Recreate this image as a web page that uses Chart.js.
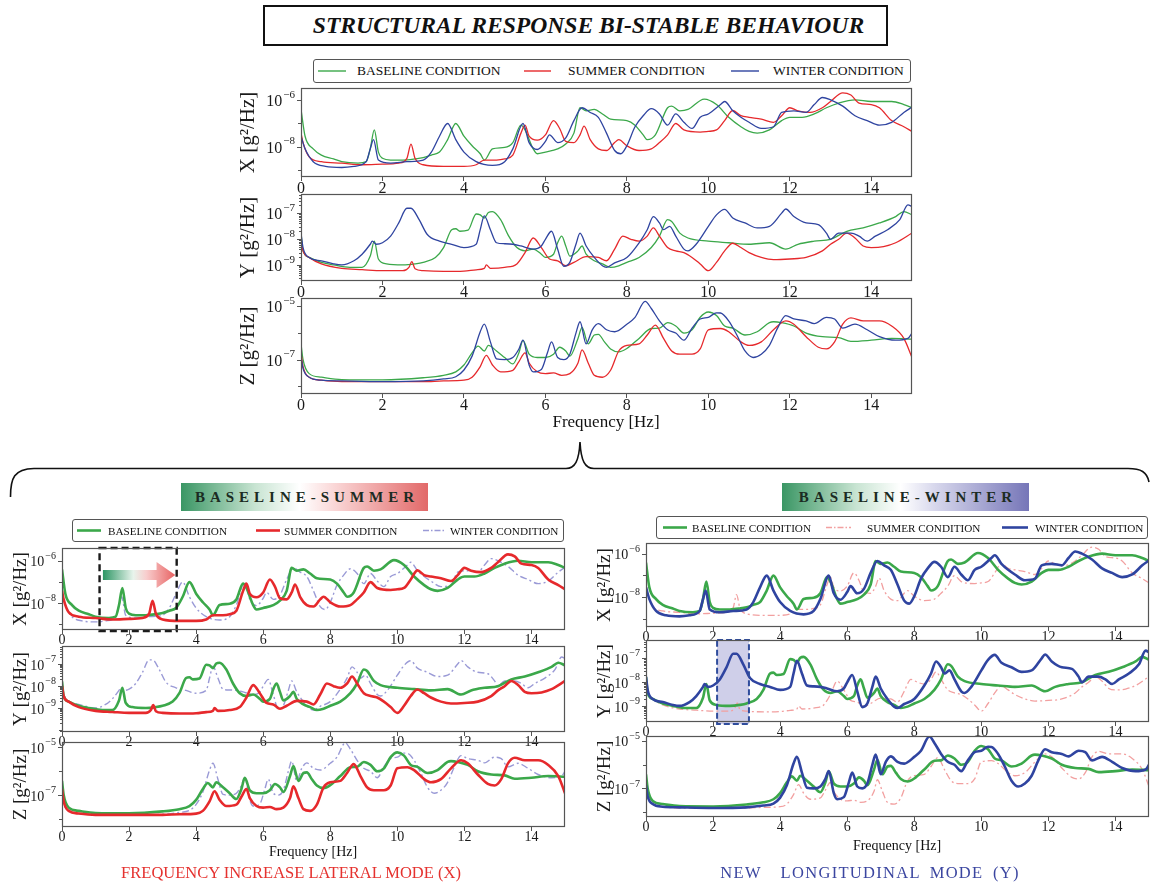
<!DOCTYPE html>
<html>
<head>
<meta charset="utf-8">
<title>Structural response bi-stable behaviour</title>
<script src="https://cdn.jsdelivr.net/npm/chart.js@4.4.1/dist/chart.umd.min.js"></script>
<style>
  body { margin: 0; background: #fff; }
  #page { position: relative; width: 1152px; height: 886px; overflow: hidden;
          font-family: 'Liberation Serif', 'Times New Roman', serif; color: #111; }
  canvas { position: absolute; }
  .abs { position: absolute; white-space: nowrap; }
  .ctr { transform: translate(-50%, -50%); }
  .legend { position: absolute; box-sizing: border-box; border: 1px solid #555; border-radius: 3px; background: #fff; }
  .tag { position: absolute; box-sizing: border-box; text-align: center; font-weight: bold;
         font-size: 15px; letter-spacing: 5px; color: #1b2b22; }
</style>
</head>
<body>
<div id="page"></div>
<script>
// ---- data ----
const freqTicks = [0, 2, 4, 6, 8, 10, 12, 14];
const seriesNames = ['BASELINE CONDITION', 'SUMMER CONDITION', 'WINTER CONDITION'];
const ticksX = [1e-8, 1e-6];
const ticksY = [1e-9, 1e-8, 1e-7];
const ticksZ = [1e-7, 1e-5];

// [frequency Hz, PSD g^2/Hz]
const xBase = [[0,3.9e-7],[0.1,2.8e-8],[0.3,8.1e-9],[0.5,4.4e-9],[0.8,3.0e-9],[1.0,2.3e-9],[1.4,2.0e-9],[1.6,2.3e-9],[1.7,8.1e-9],[1.8,5.2e-8],[1.9,5.9e-9],[2.0,3.2e-9],[2.2,2.7e-9],[2.5,2.7e-9],[2.8,3.0e-9],[3.0,3.4e-9],[3.2,4.4e-9],[3.4,5.9e-9],[3.6,2.0e-8],[3.8,9.8e-8],[4.0,2.8e-8],[4.2,1.1e-8],[4.4,5.0e-9],[4.5,2.7e-9],[4.7,8.1e-9],[5.0,9.3e-9],[5.2,1.5e-8],[5.4,8.3e-8],[5.5,5.2e-8],[5.7,8.1e-9],[5.8,5.0e-9],[6.0,5.9e-9],[6.3,8.1e-9],[6.5,1.3e-8],[6.7,3.8e-8],[6.85,4.6e-7],[7.0,3.4e-7],[7.2,3.9e-7],[7.4,2.5e-7],[7.6,1.5e-7],[8.0,1.3e-7],[8.2,8.3e-8],[8.4,3.2e-8],[8.5,2.0e-8],[8.7,3.2e-8],[9.0,4.6e-7],[9.1,5.4e-7],[9.3,3.4e-7],[9.5,3.9e-7],[9.9,1.07e-6],[10.2,6.3e-7],[10.5,1.8e-7],[10.8,7.1e-8],[11.0,4.5e-8],[11.2,3.8e-8],[11.5,5.2e-8],[11.8,1.3e-7],[12.0,1.8e-7],[12.3,1.8e-7],[12.6,2.5e-7],[12.9,4.6e-7],[13.2,7.3e-7],[13.6,1.0e-6],[14.0,8.5e-7],[14.5,8.5e-7],[14.8,6.3e-7],[15,4.6e-7]];
const xSum = [[0,3.8e-8],[0.05,1.5e-8],[0.2,3.7e-9],[0.5,2.3e-9],[1.0,2.0e-9],[1.5,1.7e-9],[2.0,1.8e-9],[2.4,2.0e-9],[2.6,3.2e-9],[2.7,1.3e-8],[2.8,3.2e-9],[3.0,1.7e-9],[3.5,1.45e-9],[4.0,1.45e-9],[4.3,1.7e-9],[4.5,2.7e-9],[4.8,2.7e-9],[5.0,3.0e-9],[5.2,4.4e-9],[5.4,3.8e-8],[5.5,8.3e-8],[5.6,2.8e-8],[5.8,1.9e-8],[6.0,3.2e-8],[6.2,1.3e-7],[6.35,6.0e-8],[6.5,1.7e-8],[6.7,1.5e-8],[6.85,3.2e-8],[6.95,7.6e-8],[7.1,2.0e-8],[7.3,8.1e-9],[7.5,6.9e-9],[7.7,1.5e-8],[7.8,2.0e-8],[8.0,1.1e-8],[8.3,6.9e-9],[8.6,8.1e-9],[8.8,1.5e-8],[9.0,3.2e-8],[9.2,9.8e-8],[9.4,5.2e-8],[9.8,4.2e-8],[10.0,4.5e-8],[10.2,5.2e-8],[10.4,1.3e-7],[10.6,3.5e-7],[10.8,2.1e-7],[11.0,1.8e-7],[11.3,1.5e-7],[11.6,1.1e-7],[11.8,2.1e-7],[12.0,4.6e-7],[12.2,3.4e-7],[12.5,2.9e-7],[12.8,4.6e-7],[13.0,8.5e-7],[13.3,2.0e-6],[13.5,1.6e-6],[13.7,7.3e-7],[14.0,6.3e-7],[14.2,4.6e-7],[14.5,1.3e-7],[14.8,7.1e-8],[15,4.5e-8]];
const xWin = [[0,2.8e-8],[0.1,8.1e-9],[0.3,2.3e-9],[0.6,1.45e-9],[1.0,1.3e-9],[1.3,1.45e-9],[1.6,2.3e-9],[1.7,8.1e-9],[1.78,2.0e-8],[1.9,2.7e-9],[2.2,2.0e-9],[2.6,2.3e-9],[3.0,2.7e-9],[3.2,5.9e-9],[3.4,2.8e-8],[3.6,9.8e-8],[3.8,2.0e-8],[4.0,5.9e-9],[4.3,2.3e-9],[4.7,1.6e-9],[5.0,2.3e-9],[5.2,8.1e-9],[5.45,9.8e-8],[5.6,1.5e-8],[5.8,7.6e-9],[6.0,1.7e-8],[6.1,3.2e-8],[6.3,1.5e-8],[6.5,2.4e-8],[6.7,1.3e-7],[6.9,4.6e-7],[7.1,2.9e-7],[7.3,1.8e-7],[7.5,3.8e-8],[7.7,6.9e-9],[7.85,5.0e-9],[8.0,1.1e-8],[8.2,7.1e-8],[8.4,2.1e-7],[8.6,4.2e-7],[8.8,2.5e-7],[9.0,8.3e-8],[9.2,2.5e-7],[9.4,1.1e-7],[9.6,6.0e-8],[9.8,1.8e-7],[10.0,2.5e-7],[10.3,6.3e-7],[10.4,8.5e-7],[10.6,3.4e-7],[10.8,1.8e-7],[11.0,1.1e-7],[11.3,6.0e-8],[11.6,7.1e-8],[11.8,2.9e-7],[12.1,3.4e-7],[12.4,2.9e-7],[12.6,6.3e-7],[12.8,1.26e-6],[13.0,1.0e-6],[13.3,5.4e-7],[13.6,2.1e-7],[13.9,1.3e-7],[14.2,8.3e-8],[14.5,1.1e-7],[14.8,2.9e-7],[15,4.9e-7]];

const yBase = [[0,1.6e-8],[0.05,3.5e-9],[0.2,1.95e-9],[0.5,1.26e-9],[0.8,1.0e-9],[1.2,8.1e-10],[1.5,8.1e-10],[1.7,2.2e-9],[1.8,8.3e-9],[1.9,1.7e-9],[2.1,1.1e-9],[2.5,1.0e-9],[2.8,1.1e-9],[3.0,1.26e-9],[3.3,1.95e-9],[3.5,4.7e-9],[3.7,2.3e-8],[3.8,2.5e-8],[3.9,2.0e-8],[4.1,2.2e-8],[4.3,9.3e-8],[4.4,8.6e-8],[4.5,6.5e-8],[4.6,1.06e-7],[4.7,1.15e-7],[4.9,5.6e-8],[5.1,1.3e-8],[5.3,4.7e-9],[5.5,3.5e-9],[5.7,4.1e-9],[5.9,2.6e-9],[6.0,1.95e-9],[6.2,2.6e-9],[6.3,7.2e-9],[6.4,1.3e-8],[6.5,5.4e-9],[6.6,2.2e-9],[6.8,3.5e-9],[6.9,5.4e-9],[7.0,2.6e-9],[7.2,1.45e-9],[7.4,1.1e-9],[7.6,8.1e-10],[7.8,9.3e-10],[8.0,1.26e-9],[8.3,1.95e-9],[8.6,4.7e-9],[8.8,1.3e-8],[9.0,5.6e-8],[9.1,4.8e-8],[9.3,1.7e-8],[9.5,1.1e-8],[10.0,8.3e-9],[10.5,7.2e-9],[11.0,6.3e-9],[11.5,7.2e-9],[11.9,4.1e-9],[12.2,6.3e-9],[12.6,8.3e-9],[13.0,9.8e-9],[13.4,2.0e-8],[13.8,2.7e-8],[14.2,4.2e-8],[14.6,7.4e-8],[14.8,1.15e-7],[15,8.7e-8]];
const ySum = [[0,1.0e-8],[0.05,3.5e-9],[0.2,1.95e-9],[0.5,1.1e-9],[1.0,7.4e-10],[1.5,6.6e-10],[2.0,6.0e-10],[2.5,6.0e-10],[2.65,8.1e-10],[2.72,1.35e-9],[2.8,7.1e-10],[3.0,6.0e-10],[3.5,5.6e-10],[4.0,5.8e-10],[4.3,6.5e-10],[4.5,7.4e-10],[4.55,1.0e-9],[4.65,7.4e-10],[5.0,8.1e-10],[5.3,1.1e-9],[5.5,3.0e-9],[5.7,1.1e-8],[5.9,4.7e-9],[6.1,1.7e-9],[6.3,1.45e-9],[6.5,9.3e-10],[6.7,1.26e-9],[7.0,2.1e-9],[7.3,1.95e-9],[7.5,1.45e-9],[7.7,4.1e-9],[7.9,1.3e-8],[8.1,9.8e-9],[8.3,8.3e-9],[8.5,1.3e-8],[8.65,2.7e-8],[8.8,1.3e-8],[9.0,4.7e-9],[9.2,3.5e-9],[9.4,3.0e-9],[9.6,1.95e-9],[9.8,1.1e-9],[10.0,6.0e-10],[10.2,1.26e-9],[10.4,3.5e-9],[10.6,6.9e-9],[10.8,4.7e-9],[11.0,3.0e-9],[11.3,1.95e-9],[11.6,1.6e-9],[12.0,1.7e-9],[12.4,1.95e-9],[12.8,3.5e-9],[13.0,6.3e-9],[13.2,9.8e-9],[13.4,1.7e-8],[13.6,1.1e-8],[13.8,5.4e-9],[14.0,4.7e-9],[14.3,5.1e-9],[14.6,7.2e-9],[15,1.7e-8]];
const yWin = [[0,1.7e-8],[0.05,4.7e-9],[0.2,1.95e-9],[0.5,1.45e-9],[0.8,1.1e-9],[1.0,1.0e-9],[1.3,1.45e-9],[1.5,2.6e-9],[1.7,6.3e-9],[1.75,8.3e-9],[1.85,6.3e-9],[2.0,7.2e-9],[2.2,1.3e-8],[2.4,4.2e-8],[2.6,1.55e-7],[2.7,1.55e-7],[2.9,5.6e-8],[3.1,1.5e-8],[3.4,8.3e-9],[3.7,6.3e-9],[4.0,4.7e-9],[4.3,6.3e-9],[4.4,2.3e-8],[4.5,7.9e-8],[4.65,2.3e-8],[4.8,7.2e-9],[5.0,6.6e-9],[5.2,6.3e-9],[5.4,5.4e-9],[5.7,4.1e-9],[5.9,5.4e-9],[6.0,9.8e-9],[6.15,2.0e-8],[6.3,4.1e-9],[6.45,8.9e-10],[6.6,1.26e-9],[6.75,6.3e-9],[6.85,1.7e-8],[7.0,5.4e-9],[7.2,1.95e-9],[7.4,9.3e-10],[7.5,8.1e-10],[7.7,1.2e-9],[8.0,1.95e-9],[8.3,7.2e-9],[8.5,2.3e-8],[8.65,7.4e-8],[8.8,4.2e-8],[8.9,2.3e-8],[9.05,3.1e-8],[9.2,1.3e-8],[9.4,4.1e-9],[9.5,3.5e-9],[9.7,6.3e-9],[10.0,3.1e-8],[10.2,8.6e-8],[10.4,1.4e-7],[10.6,6.5e-8],[10.9,4.2e-8],[11.2,2.7e-8],[11.5,3.1e-8],[11.8,1.0e-7],[11.9,1.45e-7],[12.1,7.4e-8],[12.4,4.2e-8],[12.7,3.6e-8],[12.9,1.7e-8],[13.0,9.8e-9],[13.2,1.7e-8],[13.5,1.7e-8],[13.7,1.3e-8],[13.9,8.3e-9],[14.1,1.3e-8],[14.4,2.3e-8],[14.7,5.6e-8],[14.9,2.1e-7],[15,1.8e-7]];

const zBase = [[0,3.9e-7],[0.05,1.0e-7],[0.2,3.0e-8],[0.5,2.2e-8],[1.0,1.8e-8],[2.0,1.75e-8],[3.0,2.1e-8],[3.5,2.6e-8],[3.8,3.5e-8],[4.0,6.3e-8],[4.2,1.8e-7],[4.35,3.2e-7],[4.5,2.1e-7],[4.6,3.4e-7],[4.8,2.1e-7],[5.0,1.2e-7],[5.2,6.9e-8],[5.35,1.8e-7],[5.45,5.2e-7],[5.6,1.6e-7],[5.8,1.2e-7],[6.0,1.2e-7],[6.2,1.6e-7],[6.35,2.9e-7],[6.5,2.1e-7],[6.6,1.35e-7],[6.8,6.2e-7],[6.9,1.6e-6],[7.05,3.9e-7],[7.2,8.3e-7],[7.3,8.8e-7],[7.45,4.6e-7],[7.6,2.5e-7],[7.8,1.95e-7],[8.0,2.6e-7],[8.3,6.2e-7],[8.6,1.45e-6],[8.8,1.5e-6],[9.0,2.4e-6],[9.2,1.8e-6],[9.4,9.8e-7],[9.6,1.3e-6],[9.8,3.8e-6],[10.0,6.0e-6],[10.2,4.4e-6],[10.4,1.8e-6],[10.6,1.5e-6],[10.9,8.3e-7],[11.2,1.1e-6],[11.5,2.4e-6],[11.6,2.6e-6],[11.8,2.4e-6],[12.1,1.8e-6],[12.4,9.8e-7],[12.8,7.2e-7],[13.2,6.6e-7],[13.5,4.8e-7],[14.0,5.3e-7],[14.5,6.2e-7],[15,5.8e-7]];
const zSum = [[0,1.8e-7],[0.05,5.5e-8],[0.2,2.2e-8],[0.5,1.7e-8],[1.0,1.5e-8],[2.0,1.5e-8],[3.0,1.5e-8],[3.5,1.6e-8],[4.0,1.7e-8],[4.2,2.2e-8],[4.4,5.5e-8],[4.55,1.45e-7],[4.7,6.3e-8],[4.9,3.5e-8],[5.2,4.0e-8],[5.35,8.5e-8],[5.5,1.8e-7],[5.6,7.5e-8],[5.8,3.5e-8],[6.0,3.0e-8],[6.2,3.2e-8],[6.4,2.6e-8],[6.6,3.0e-8],[6.8,7.5e-8],[6.9,2.3e-7],[7.05,7.5e-8],[7.2,2.6e-8],[7.4,2.2e-8],[7.6,4.0e-8],[7.8,2.1e-7],[8.0,3.4e-7],[8.3,3.9e-7],[8.5,8.3e-7],[8.7,1.95e-6],[8.9,6.2e-7],[9.1,2.1e-7],[9.3,1.6e-7],[9.6,1.6e-7],[9.8,2.5e-7],[10.0,1.3e-6],[10.3,1.45e-6],[10.5,1.1e-6],[10.8,4.6e-7],[11.0,3.4e-7],[11.3,4.6e-7],[11.6,1.3e-6],[11.9,2.8e-6],[12.1,2.1e-6],[12.4,7.2e-7],[12.7,2.9e-7],[12.9,2.5e-7],[13.1,4.6e-7],[13.3,2.1e-6],[13.5,3.6e-6],[13.8,2.8e-6],[14.2,2.8e-6],[14.5,1.8e-6],[14.8,6.2e-7],[15,1.2e-7]];
const zWin = [[0,1.35e-7],[0.05,4.7e-8],[0.2,2.2e-8],[0.5,1.7e-8],[1.0,1.6e-8],[2.0,1.5e-8],[3.0,1.6e-8],[3.5,1.9e-8],[3.8,2.3e-8],[4.0,4.1e-8],[4.2,1.35e-7],[4.4,1.1e-6],[4.5,2.1e-6],[4.65,4.6e-7],[4.8,1.07e-7],[5.0,1.0e-7],[5.2,1.2e-7],[5.35,2.5e-7],[5.45,5.3e-7],[5.6,6.3e-8],[5.7,3.5e-8],[5.9,4.3e-8],[6.05,1.8e-7],[6.15,4.6e-7],[6.3,1.2e-7],[6.45,1.0e-7],[6.6,1.6e-7],[6.75,9.8e-7],[6.85,2.6e-6],[7.0,3.9e-7],[7.15,1.3e-6],[7.3,2.2e-6],[7.5,1.3e-6],[7.7,1.1e-6],[8.0,2.1e-6],[8.2,3.8e-6],[8.45,1.5e-5],[8.6,8.1e-6],[8.8,2.8e-6],[9.0,1.3e-6],[9.2,9.8e-7],[9.4,5.3e-7],[9.6,1.5e-6],[9.8,3.3e-6],[10.0,3.8e-6],[10.2,5.6e-6],[10.3,5.5e-6],[10.5,2.8e-6],[10.7,8.3e-7],[10.9,2.1e-7],[11.1,1.2e-7],[11.3,1.6e-7],[11.5,3.4e-7],[11.7,1.5e-6],[11.9,4.4e-6],[12.1,3.3e-6],[12.4,2.8e-6],[12.6,2.2e-6],[12.9,3.8e-6],[13.1,3.3e-6],[13.3,1.5e-6],[13.6,2.1e-6],[13.9,1.3e-6],[14.2,7.2e-7],[14.6,5.3e-7],[14.9,6.2e-7],[15,9.8e-7]];

// ---- drawing ----
const page = document.getElementById('page');
const SERIF = "'Liberation Serif', 'Times New Roman', serif";

function addText(txt, x, y, css) {
  const d = document.createElement('div');
  d.className = 'abs ctr';
  d.textContent = txt;
  d.style.left = x + 'px';
  d.style.top = y + 'px';
  Object.assign(d.style, css || {});
  page.appendChild(d);
  return d;
}

function addLegend(box, items, fs) {
  const h = box.b - box.t;
  const d = document.createElement('div');
  d.className = 'legend';
  Object.assign(d.style, { left: box.l + 'px', top: box.t + 'px', width: (box.r - box.l) + 'px', height: h + 'px' });
  page.appendChild(d);
  const ns = 'http://www.w3.org/2000/svg';
  items.forEach(it => {
    const svg = document.createElementNS(ns, 'svg');
    svg.setAttribute('width', it.x1 - it.x0);
    svg.setAttribute('height', h - 2);
    svg.style.position = 'absolute';
    svg.style.left = (it.x0 - box.l - 1) + 'px';
    svg.style.top = '0px';
    const ln = document.createElementNS(ns, 'line');
    ln.setAttribute('x1', 0); ln.setAttribute('x2', it.x1 - it.x0);
    ln.setAttribute('y1', (h - 2) / 2); ln.setAttribute('y2', (h - 2) / 2);
    ln.setAttribute('stroke', it.color);
    ln.setAttribute('stroke-width', it.w);
    if (it.dash) ln.setAttribute('stroke-dasharray', it.dash.join(' '));
    svg.appendChild(ln);
    d.appendChild(svg);
    const t = document.createElement('div');
    t.className = 'abs';
    t.textContent = it.label;
    Object.assign(t.style, { left: (it.tx - box.l - 1) + 'px', top: '50%', transform: 'translateY(-50%)', fontSize: fs + 'px' });
    d.appendChild(t);
  });
}

function plot(cfg) {
  const { box, axisW, title, range, ticks, series, fs } = cfg;
  const padT = 6, padR = 6, xH = 22;
  const w = axisW + (box.r - box.l) + padR;
  const h = padT + (box.b - box.t) + xH;
  const c = document.createElement('canvas');
  c.width = w; c.height = h;
  c.style.left = (box.l - axisW) + 'px';
  c.style.top = (box.t - padT) + 'px';
  c.style.width = w + 'px';
  c.style.height = h + 'px';
  page.appendChild(c);

  const frame = {
    id: 'frame',
    beforeDatasetsDraw(chart) { if (cfg.under) cfg.under(chart); },
    afterDatasetsDraw(chart) { if (cfg.over) cfg.over(chart); },
    afterDraw(chart) {
      const { ctx, chartArea: a, scales: { y } } = chart;
      ctx.save();
      ctx.strokeStyle = '#555';
      ctx.lineWidth = 1.2;
      ctx.strokeRect(a.left + 0.5, a.top + 0.5, a.right - a.left - 1, a.bottom - a.top - 1);
      // y tick marks
      ctx.lineWidth = 1;
      const lo = Math.floor(Math.log10(y.min)), hi = Math.ceil(Math.log10(y.max));
      for (let d = lo; d <= hi; d++) {
        for (let k = 1; k <= 9; k++) {
          const v = k * Math.pow(10, d);
          if (v < y.min || v > y.max) continue;
          const lab = k === 1 && ticks.some(t => Math.abs(Math.log10(t) - d) < 1e-6);
          const len = lab ? 4 : (k === 1 ? 3 : (cfg.minor ? 2 : 0));
          if (!len) continue;
          const py = Math.round(y.getPixelForValue(v)) + 0.5;
          ctx.beginPath();
          ctx.moveTo(a.left, py);
          ctx.lineTo(a.left - len, py);
          ctx.stroke();
        }
      }
      // y tick labels 10^n
      ctx.fillStyle = '#1a1a1a';
      ctx.textBaseline = 'middle';
      ctx.textAlign = 'left';
      const baseFont = fs + 'px ' + SERIF;
      const supFont = Math.round(fs * 0.68) + 'px ' + SERIF;
      ticks.forEach(t => {
        const py = y.getPixelForValue(t);
        const sup = '\u2212' + Math.abs(Math.round(Math.log10(t)));
        ctx.font = supFont;
        const sw = ctx.measureText(sup).width;
        ctx.font = baseFont;
        const bw = ctx.measureText('10').width;
        const xr = a.left - 6;
        ctx.fillText('10', xr - sw - bw - 1, py + 2);
        ctx.font = supFont;
        ctx.fillText(sup, xr - sw, py - fs * 0.32);
      });
      ctx.restore();
    }
  };

  return new Chart(c, {
    type: 'line',
    data: {
      datasets: series.map(s => ({
        data: s.pts.map(p => ({ x: p[0], y: p[1] })),
        borderColor: s.color,
        borderWidth: s.w,
        borderDash: s.dash || [],
        pointRadius: 0,
        fill: false,
        cubicInterpolationMode: 'monotone',
        order: s.order
      }))
    },
    options: {
      responsive: false,
      animation: false,
      devicePixelRatio: 1,
      events: [],
      layout: { padding: { top: padT, right: padR, left: 0, bottom: 0 } },
      plugins: { legend: { display: false }, tooltip: { enabled: false } },
      scales: {
        x: {
          type: 'linear', min: 0, max: 15,
          afterBuildTicks: s => { s.ticks = freqTicks.map(v => ({ value: v })); },
          afterFit: s => { s.height = xH; },
          ticks: { font: { family: SERIF, size: fs }, color: '#1a1a1a', padding: -2, maxRotation: 0, autoSkip: false },
          grid: { drawOnChartArea: false, tickLength: 4, color: '#555' },
          border: { display: false }
        },
        y: {
          type: 'logarithmic', min: range[0], max: range[1],
          afterBuildTicks: s => { s.ticks = ticks.map(v => ({ value: v })); },
          afterFit: s => { s.width = axisW; },
          ticks: { display: false },
          grid: { display: false },
          border: { display: false },
          title: { display: true, text: title, font: { family: SERIF, size: cfg.tfs }, color: '#1a1a1a', padding: 0 }
        }
      }
    },
    plugins: [frame]
  });
}

// ---- figure heading ----
addText('STRUCTURAL RESPONSE BI-STABLE BEHAVIOUR', 0, 0, {
  transform: 'none', left: '263px', top: '5px', width: '625px', height: '41px', boxSizing: 'border-box',
  border: '2px solid #111', textAlign: 'center', lineHeight: '37px', fontSize: '23.6px', fontWeight: 'bold', fontStyle: 'italic',
  paddingLeft: '26px'
});

// ---- styles ----
const GREEN = '#3ba84a', RED = '#e6292c', BLUE = '#2f44a0';
const thinG = { color: GREEN, w: 1.3, order: 2 };
const thinR = { color: RED, w: 1.3, order: 1 };
const thinB = { color: BLUE, w: 1.3, order: 0 };
const dashDot = [7, 3, 2, 3];

// ---- top panel ----
addLegend({ l: 313, r: 911, t: 59, b: 83 }, [
  { x0: 318, x1: 346, tx: 357, color: GREEN, w: 1.4, label: seriesNames[0] },
  { x0: 524, x1: 551, tx: 568, color: RED, w: 1.4, label: seriesNames[1] },
  { x0: 731, x1: 759, tx: 773, color: BLUE, w: 1.4, label: seriesNames[2] }
], 13.5);

const TL = 301, TR = 912;
plot({ box: { l: TL, r: TR, t: 88, b: 177 }, axisW: 65, tfs: 21, title: 'X [g²/Hz]', range: [5.1e-10, 3.2e-6], ticks: ticksX, fs: 16,
  series: [{ pts: xBase, ...thinG }, { pts: xSum, ...thinR }, { pts: xWin, ...thinB }] });
plot({ box: { l: TL, r: TR, t: 194, b: 281 }, axisW: 65, tfs: 21, title: 'Y [g²/Hz]', range: [2.4e-10, 5.5e-7], ticks: ticksY, fs: 16, minor: true,
  series: [{ pts: yBase, ...thinG }, { pts: ySum, ...thinR }, { pts: yWin, ...thinB }] });
plot({ box: { l: TL, r: TR, t: 298, b: 394 }, axisW: 65, tfs: 21, title: 'Z [g²/Hz]', range: [5.2e-9, 2.0e-5], ticks: ticksZ, fs: 16,
  series: [{ pts: zBase, ...thinG }, { pts: zSum, ...thinR }, { pts: zWin, ...thinB }] });
addText('Frequency [Hz]', 606, 422, { fontSize: '17px' });

// ---- brace ----
const svgNS = 'http://www.w3.org/2000/svg';
const brace = document.createElementNS(svgNS, 'svg');
brace.setAttribute('width', 1152); brace.setAttribute('height', 886);
brace.style.position = 'absolute'; brace.style.left = '0px'; brace.style.top = '0px';
const bp = document.createElementNS(svgNS, 'path');
bp.setAttribute('d', 'M 10.5 497 C 10.5 478, 14 469, 34 468.5 L 566 468.5 C 575 468.5, 579 461, 580 442 C 581 461, 585 468.5, 594 468.5 L 1128 468.5 C 1141 468.5, 1147 472, 1149 482');
bp.setAttribute('fill', 'none'); bp.setAttribute('stroke', '#111'); bp.setAttribute('stroke-width', 1.6);
brace.appendChild(bp);
page.appendChild(brace);

// ---- comparison tags ----
function addTag(txt, l, r, grad) {
  const d = document.createElement('div');
  d.className = 'tag';
  d.textContent = txt;
  Object.assign(d.style, { left: l + 'px', top: '483px', width: (r - l) + 'px', height: '28px', lineHeight: '28px', background: grad, paddingLeft: '5px' });
  page.appendChild(d);
}
addTag('BASELINE-SUMMER', 181, 428, 'linear-gradient(to right, rgb(58,150,100), rgb(200,228,210) 30%, rgb(255,255,255) 48%, rgb(250,215,215) 62%, rgb(226,105,105))');
addTag('BASELINE-WINTER', 782, 1029, 'linear-gradient(to right, rgb(58,150,100), rgb(200,228,210) 30%, rgb(255,255,255) 48%, rgb(215,215,236) 62%, rgb(118,118,184))');

// ---- bottom-left: baseline vs summer ----
const LAV = '#9a9ad6', PINK = '#f2a0a0';
const thickG = { color: GREEN, w: 2.6, order: 1 };
addLegend({ l: 72, r: 564, t: 519, b: 542 }, [
  { x0: 77, x1: 101, tx: 108, color: GREEN, w: 2.6, label: seriesNames[0] },
  { x0: 256, x1: 280, tx: 284, color: RED, w: 2.6, label: seriesNames[1] },
  { x0: 423, x1: 445, tx: 450, color: LAV, w: 1.4, dash: [6, 2, 1.5, 2], label: seriesNames[2] }
], 11.2);

const bl = { l: 62, r: 565 };
const blS = [
  p => ({ pts: p[0], ...thickG }),
  p => ({ pts: p[1], color: RED, w: 2.6, order: 0 }),
  p => ({ pts: p[2], color: LAV, w: 1.4, dash: dashDot, order: 2 })
];
function summerMark(chart) {
  const { ctx, chartArea: a, scales: { x } } = chart;
  const xs = x.getPixelForValue(1.22), xh = x.getPixelForValue(2.82), xt = x.getPixelForValue(3.38);
  const cy = a.top + 27;
  ctx.save();
  const g = ctx.createLinearGradient(xs, 0, xt, 0);
  g.addColorStop(0, 'rgb(45,150,100)');
  g.addColorStop(0.42, 'rgb(232,244,236)');
  g.addColorStop(0.6, 'rgb(248,205,205)');
  g.addColorStop(1, 'rgb(232,98,98)');
  ctx.fillStyle = g;
  ctx.beginPath();
  ctx.moveTo(xs, cy - 5); ctx.lineTo(xh, cy - 5); ctx.lineTo(xh, cy - 13);
  ctx.lineTo(xt, cy); ctx.lineTo(xh, cy + 13); ctx.lineTo(xh, cy + 5); ctx.lineTo(xs, cy + 5);
  ctx.closePath(); ctx.fill();
  const x0 = x.getPixelForValue(1.12), x1 = x.getPixelForValue(3.42);
  ctx.strokeStyle = '#1a1a1a'; ctx.lineWidth = 2.4; ctx.setLineDash([7, 4]);
  ctx.strokeRect(x0, a.top, x1 - x0, a.bottom - a.top + 1);
  ctx.restore();
}
plot({ box: { ...bl, t: 548, b: 630 }, axisW: 52, tfs: 19, title: 'X [g²/Hz]', range: [5.4e-10, 4.0e-6], ticks: ticksX, fs: 14,
  series: blS.map(f => f([xBase, xSum, xWin])), over: summerMark });
plot({ box: { ...bl, t: 646, b: 732 }, axisW: 52, tfs: 19, title: 'Y [g²/Hz]', range: [8.1e-11, 6.6e-7], ticks: ticksY, fs: 14, minor: true,
  series: blS.map(f => f([yBase, ySum, yWin])) });
plot({ box: { ...bl, t: 742, b: 827 }, axisW: 52, tfs: 19, title: 'Z [g²/Hz]', range: [4.7e-9, 1.62e-5], ticks: ticksZ, fs: 14,
  series: blS.map(f => f([zBase, zSum, zWin])) });
addText('Frequency [Hz]', 313, 852, { fontSize: '14px' });
addText('FREQUENCY INCREASE LATERAL MODE (X)', 291, 873, { fontSize: '16.5px', color: '#e5322f' });

// ---- bottom-right: baseline vs winter ----
addLegend({ l: 656, r: 1148, t: 516, b: 539 }, [
  { x0: 663, x1: 687, tx: 692, color: GREEN, w: 2.6, label: seriesNames[0] },
  { x0: 826, x1: 851, tx: 867, color: PINK, w: 1.4, dash: [6, 2, 1.5, 2], label: seriesNames[1] },
  { x0: 1002, x1: 1028, tx: 1035, color: BLUE, w: 2.6, label: seriesNames[2] }
], 11.2);

const br = { l: 646, r: 1149 };
const brS = [
  p => ({ pts: p[0], ...thickG }),
  p => ({ pts: p[1], color: PINK, w: 1.3, dash: dashDot, order: 2 }),
  p => ({ pts: p[2], color: BLUE, w: 2.6, order: 0 })
];
function winterFill(chart) {
  const { ctx, chartArea: a, scales: { x } } = chart;
  const x0 = x.getPixelForValue(2.12), x1 = x.getPixelForValue(3.07);
  ctx.save();
  ctx.fillStyle = 'rgba(160,160,212,0.5)';
  ctx.fillRect(x0, a.top, x1 - x0, a.bottom - a.top + 2);
  ctx.restore();
}
function winterEdge(chart) {
  const { ctx, chartArea: a, scales: { x } } = chart;
  const x0 = x.getPixelForValue(2.12), x1 = x.getPixelForValue(3.07);
  ctx.save();
  ctx.strokeStyle = '#2f4c9c'; ctx.lineWidth = 2; ctx.setLineDash([6, 3]);
  ctx.strokeRect(x0, a.top, x1 - x0, a.bottom - a.top + 2);
  ctx.restore();
}
plot({ box: { ...br, t: 543, b: 627 }, axisW: 52, tfs: 19, title: 'X [g²/Hz]', range: [4.2e-10, 3.1e-6], ticks: ticksX, fs: 14,
  series: brS.map(f => f([xBase, xSum, xWin])) });
plot({ box: { ...br, t: 640, b: 722 }, axisW: 52, tfs: 19, title: 'Y [g²/Hz]', range: [2.1e-10, 5.9e-7], ticks: ticksY, fs: 14, minor: true,
  series: brS.map(f => f([yBase, ySum, yWin])), under: winterFill, over: winterEdge });
plot({ box: { ...br, t: 736, b: 817 }, axisW: 52, tfs: 19, title: 'Z [g²/Hz]', range: [6.3e-9, 1.58e-5], ticks: ticksZ, fs: 14,
  series: brS.map(f => f([zBase, zSum, zWin])) });
addText('Frequency [Hz]', 897, 846, { fontSize: '14px' });
addText('NEW\u00a0 LONGITUDINAL MODE (Y)', 870, 873, { fontSize: '16.5px', color: '#3b46a0', letterSpacing: '1.3px', wordSpacing: '4px' });
</script>
</body>
</html>
